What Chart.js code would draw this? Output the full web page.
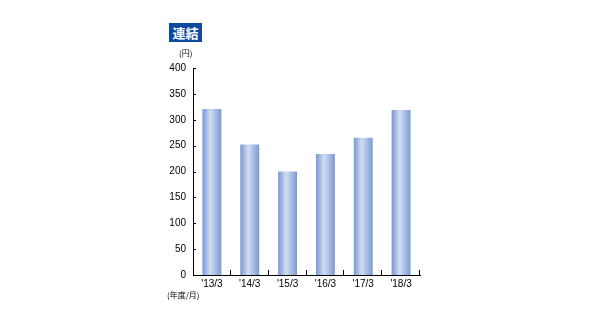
<!DOCTYPE html>
<html><head><meta charset="utf-8">
<script src="https://cdn.jsdelivr.net/npm/chart.js@4"></script>
<style>
html,body{margin:0;padding:0;background:#fff;}
#wrap{position:relative;width:598px;height:319px;overflow:hidden;}
canvas{position:absolute;left:0;top:0;}
.t{position:absolute;font-family:"Noto Sans CJK JP","Liberation Sans",sans-serif;color:#000;white-space:nowrap;}
</style></head><body>
<div id="wrap">
<canvas id="c" width="598" height="319"></canvas>
<div class="t" style="left:169px;top:23px;width:33px;height:19px;background:#0d4a9e;color:#fff;font-weight:bold;font-size:13px;line-height:19px;text-align:center;">連結</div>
<div class="t" style="left:179px;top:48px;font-size:8px;line-height:10px;">(円)</div>
<div class="t" style="left:167px;top:290px;font-size:8px;line-height:10px;">(年度/月)</div>
</div>
<script>
const categories = ["'13/3", "'14/3", "'15/3", "'16/3", "'17/3", "'18/3"];
const values = [321, 252, 200, 234, 265, 319];
const yTicks = [0, 50, 100, 150, 200, 250, 300, 350, 400];

const inTicks = {
  id: 'inTicks',
  afterDraw(chart) {
    const {ctx, scales: {x, y}, chartArea: a} = chart;
    ctx.save();
    ctx.strokeStyle = '#000';
    ctx.lineWidth = 1;
    ctx.beginPath();
    y.ticks.forEach(t => {
      const py = Math.round(y.getPixelForValue(t.value)) + 0.5;
      ctx.moveTo(a.left, py); ctx.lineTo(a.left + 3, py);
    });
    const step = x.getPixelForValue(1) - x.getPixelForValue(0);
    for (let i = 0; i < categories.length; i++) {
      const px = Math.round(x.getPixelForValue(i) + step / 2) - 0.5;
      ctx.moveTo(px, a.bottom); ctx.lineTo(px, a.bottom - 5);
    }
    ctx.stroke();
    ctx.restore();
  }
};

new Chart(document.getElementById('c'), {
  type: 'bar',
  data: {
    labels: categories,
    datasets: [{
      data: values,
      categoryPercentage: 1,
      barPercentage: 0.5,
      borderWidth: 0,
      backgroundColor(c) {
        const ch = c.chart, xs = ch.scales.x;
        if (!xs || !ch.chartArea || c.dataIndex === undefined) return '#9db4e0';
        const cx = xs.getPixelForValue(c.dataIndex);
        const w = (xs.getPixelForValue(1) - xs.getPixelForValue(0)) * 0.5;
        const g = ch.ctx.createLinearGradient(cx - w / 2, 0, cx + w / 2, 0);
        g.addColorStop(0, '#7797d3');
        g.addColorStop(0.42, '#d2def2');
        g.addColorStop(1, '#7a9ad5');
        return g;
      }
    }]
  },
  options: {
    responsive: false,
    animation: false,
    layout: {padding: {left: 0, top: 68, right: 178, bottom: 24}},
    plugins: {legend: {display: false}, tooltip: {enabled: false}},
    scales: {
      x: {
        grid: {display: false, drawTicks: false, tickLength: 0},
        border: {display: true, color: '#000', width: 1},
        ticks: {color: '#000', padding: 3, font: {family: 'Liberation Sans', size: 10}, maxRotation: 0},
        afterFit(s) { s.height = 20; }
      },
      y: {
        min: 0, max: 400,
        afterBuildTicks(s) { s.ticks = yTicks.map(v => ({value: v})); },
        grid: {display: false, drawTicks: false, tickLength: 0},
        border: {display: true, color: '#000', width: 1},
        ticks: {color: '#000', padding: 7, font: {family: 'Liberation Sans', size: 10}},
        afterFit(s) { s.width = 193; }
      }
    }
  },
  plugins: [inTicks]
});
</script>
</body></html>
